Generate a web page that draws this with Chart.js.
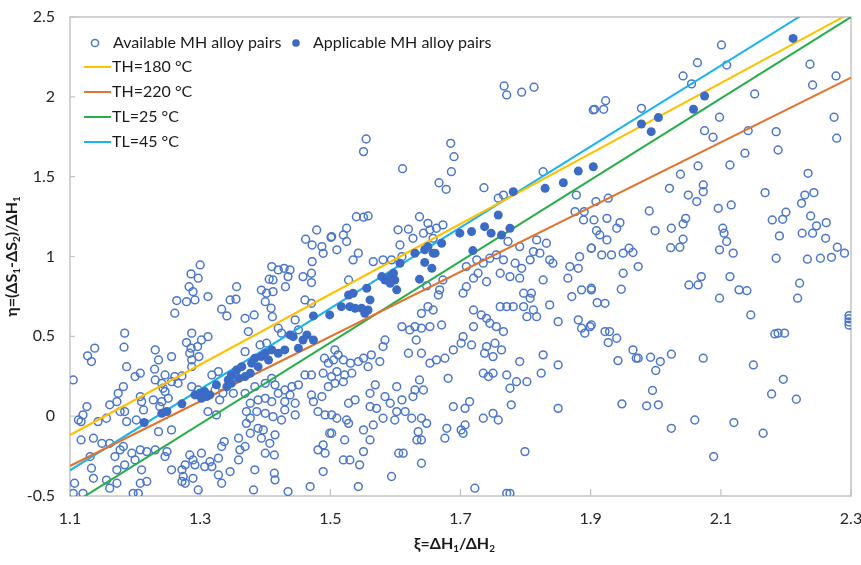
<!DOCTYPE html>
<html>
<head>
<meta charset="utf-8">
<script src="https://cdn.jsdelivr.net/npm/chart.js@4.4.1/dist/chart.umd.min.js"></script>
<style>
  html, body { margin: 0; padding: 0; background: #ffffff; }
  #wrap { width: 861px; height: 565px; position: relative; }
</style>
</head>
<body>
<div id="wrap"><canvas id="c" width="861" height="565"></canvas></div>
<script>
// Axis ticks
const xTickVals = [1.1, 1.3, 1.5, 1.7, 1.9, 2.1, 2.3];
const yTickVals = [-0.5, 0, 0.5, 1, 1.5, 2, 2.5];

// Available MH alloy pairs: xi, eta
const availXi = [
  1.479,1.462,1.472,1.501,1.487,1.489,1.472,1.300,1.286,1.297,1.283,1.289,1.264,1.279,1.292,1.261,1.312,1.356,1.333,1.341,
  1.346,1.355,1.369,1.374,1.383,1.410,1.406,1.412,1.420,1.429,1.438,1.435,1.431,1.394,1.402,1.412,1.400,1.409,1.411,1.446,
  1.458,1.461,1.471,1.471,1.471,1.451,1.420,1.425,1.402,1.392,1.369,1.312,1.302,1.287,1.279,1.286,1.296,1.284,1.298,1.287,
  1.287,1.256,1.231,1.236,1.184,1.183,1.138,1.127,1.133,1.187,1.200,1.208,1.230,1.246,1.261,1.272,1.231,1.241,1.243,1.246,
  1.256,1.266,1.251,1.241,1.238,1.287,1.297,1.318,1.328,1.323,1.335,1.330,1.312,1.325,1.351,1.369,1.377,1.384,1.400,1.410,
  1.415,1.400,1.389,1.410,1.420,1.430,1.441,1.412,1.400,1.387,1.371,1.377,1.389,1.397,1.394,1.415,1.407,1.414,1.359,1.361,
  1.369,1.337,1.333,1.328,1.315,1.318,1.307,1.302,1.284,1.289,1.292,1.277,1.272,1.274,1.277,1.289,1.256,1.249,1.246,1.256,
  1.231,1.236,1.218,1.208,1.200,1.195,1.210,1.218,1.208,1.197,1.205,1.172,1.156,1.161,1.136,1.133,1.120,1.105,1.107,1.172,
  1.184,1.169,1.177,1.182,1.161,1.149,1.136,1.117,1.131,1.113,1.120,1.117,1.126,1.143,1.156,1.161,1.172,1.174,1.182,1.177,
  1.184,1.187,1.202,1.213,1.210,1.208,1.228,1.105,1.491,1.497,1.489,1.502,1.497,1.487,1.474,1.471,1.461,1.471,1.451,1.438,
  1.446,1.430,1.430,1.446,1.425,1.481,1.492,1.499,1.489,1.481,1.492,1.489,1.469,1.435,1.382,1.384,1.346,1.297,1.272,1.328,
  1.333,1.359,1.414,1.415,1.400,1.377,1.371,
  1.767,1.771,1.794,1.813,1.904,1.555,1.551,1.611,1.685,1.690,1.686,1.667,1.678,1.736,1.827,1.878,1.876,1.890,1.889,1.901,
  1.758,1.766,1.540,1.551,1.558,1.525,1.520,1.502,1.510,1.525,1.543,1.535,1.566,1.581,1.604,1.620,1.607,1.627,1.637,1.650,
  1.653,1.663,1.673,1.643,1.658,1.610,1.594,1.528,1.648,1.668,1.666,1.673,1.709,1.720,1.709,1.725,1.735,1.745,1.755,1.766,
  1.727,1.740,1.761,1.773,1.791,1.812,1.817,1.832,1.807,1.822,1.837,1.842,1.784,1.794,1.791,1.776,1.797,1.809,1.807,1.827,
  1.865,1.868,1.883,1.881,1.871,1.886,1.901,1.837,1.850,1.881,1.886,1.891,1.899,1.761,1.771,1.781,1.797,1.812,1.817,1.802,
  1.766,1.755,1.745,1.740,1.732,1.720,1.720,1.704,1.753,1.740,1.737,1.750,1.763,1.717,1.704,1.701,1.689,1.676,1.663,1.653,
  1.671,1.653,1.640,1.630,1.622,1.610,1.640,1.650,1.658,1.632,1.620,1.640,1.637,1.630,1.643,1.627,1.584,1.581,1.576,1.563,
  1.558,1.551,1.543,1.531,1.520,1.512,1.507,1.505,1.510,1.522,1.533,1.520,1.507,1.569,1.561,1.584,1.602,1.592,1.602,1.615,
  1.625,1.640,1.648,1.635,1.640,1.679,1.701,1.707,1.714,1.707,1.689,1.735,1.750,1.758,1.778,1.776,1.771,1.786,1.802,1.791,
  1.827,1.824,1.850,1.850,1.799,1.776,1.771,1.722,1.743,1.681,1.640,1.612,1.605,1.594,1.633,1.676,1.704,1.735,1.750,1.581,
  1.571,1.561,1.538,1.528,1.525,1.510,1.502,1.502,1.528,1.522,1.551,1.566,1.561,1.551,1.530,1.520,1.545,1.543,1.599,1.610,
  2.101,2.064,2.109,2.042,2.055,2.152,2.237,2.241,2.277,1.978,1.906,1.920,1.923,2.098,2.075,2.088,2.142,2.185,2.188,2.274,
  2.278,2.137,2.114,2.065,2.038,2.021,2.050,2.073,2.073,2.063,2.234,2.229,2.243,2.224,2.168,2.096,2.116,1.990,1.999,2.024,
  2.042,2.046,2.042,2.037,2.023,2.103,2.105,2.109,2.098,2.119,2.179,2.195,2.200,2.190,2.185,2.225,2.241,2.238,2.247,2.262,
  2.261,2.279,2.290,2.270,2.253,2.233,2.221,2.218,2.114,2.128,2.140,2.146,2.070,2.051,2.065,2.098,2.188,2.198,2.183,2.297,
  2.297,2.297,2.297,2.150,2.196,2.178,2.216,2.165,2.120,2.089,2.060,2.024,2.073,2.024,2.007,2.000,1.995,1.986,2.004,1.992,
  1.970,1.965,1.942,1.948,1.973,1.965,1.959,1.950,1.950,1.947,1.940,1.945,1.925,1.908,1.927,1.905,1.909,1.914,1.925,1.917,
  1.932,1.901,1.901,1.910,1.922,1.901,1.922,1.929,1.927,1.940,1.973
];
const availEta = [
  1.166,1.108,1.072,1.120,1.062,1.020,0.968,0.947,0.891,0.864,0.811,0.780,0.724,0.717,0.728,0.645,0.749,0.811,0.670,0.628,
  0.728,0.733,0.613,0.530,0.634,0.937,0.858,0.853,0.916,0.926,0.916,0.874,0.811,0.790,0.770,0.780,0.717,0.676,0.623,0.603,
  0.874,0.728,0.707,0.895,0.837,0.541,0.551,0.520,0.457,0.446,0.404,0.498,0.477,0.520,0.461,0.426,0.436,0.394,0.373,0.352,
  0.310,0.373,0.415,0.352,0.520,0.432,0.426,0.378,0.342,0.310,0.248,0.269,0.294,0.258,0.248,0.252,0.227,0.206,0.175,0.154,
  0.216,0.206,0.112,0.091,0.060,0.185,0.164,0.258,0.279,0.164,0.143,0.102,0.029,0.008,0.143,0.143,0.081,0.185,0.206,0.237,
  0.196,0.112,0.102,0.091,0.143,0.164,0.185,-0.003,0.018,0.029,0.029,-0.013,-0.076,-0.086,-0.138,-0.117,-0.170,-0.243,-0.138,-0.211,
  -0.190,-0.159,-0.190,-0.263,-0.285,-0.316,-0.316,-0.232,-0.243,-0.274,-0.305,-0.305,-0.336,-0.378,-0.420,-0.389,-0.336,-0.222,-0.253,-0.086,
  -0.211,-0.097,-0.222,-0.211,-0.274,-0.232,-0.336,-0.409,-0.420,-0.483,-0.483,-0.420,-0.400,-0.451,-0.389,-0.326,-0.483,-0.483,-0.420,-0.336,
  -0.305,-0.253,-0.211,-0.190,-0.170,-0.170,-0.138,-0.149,-0.253,-0.024,0.008,-0.034,0.060,-0.034,-0.013,0.071,0.091,0.143,0.185,0.029,
  0.029,-0.034,-0.024,0.039,0.091,0.123,0.102,0.227,0.363,0.332,0.269,0.248,0.185,0.123,0.091,0.133,0.258,0.258,0.196,0.133,
  0.081,0.091,0.039,0.008,-0.024,0.029,0.008,-0.107,-0.180,-0.211,-0.232,-0.347,-0.441,-0.472,-0.462,-0.336,-0.347,-0.462,-0.409,-0.368,
  -0.420,-0.274,-0.357,-0.399,-0.232,-0.107,-0.045,
  2.068,2.012,2.029,2.060,1.918,1.736,1.657,1.550,1.709,1.625,1.531,1.462,1.421,1.431,1.531,1.385,1.281,1.281,1.229,1.052,
  1.365,1.385,1.249,1.246,1.254,1.177,1.135,1.125,1.042,1.094,1.021,0.979,0.968,0.979,1.167,1.171,1.072,1.114,1.249,1.208,
  1.167,1.177,1.198,1.146,1.114,0.999,0.979,0.853,0.816,0.791,0.759,0.853,0.811,0.864,0.937,0.979,0.958,0.989,1.010,0.979,
  0.895,0.842,0.895,1.094,1.062,1.031,1.104,1.083,0.979,1.021,0.979,0.958,0.958,0.926,0.864,0.874,0.770,0.770,0.738,0.853,
  0.864,0.937,0.999,0.926,0.749,0.791,0.791,0.697,0.592,0.603,0.551,0.520,0.561,0.686,0.686,0.686,0.686,0.665,0.623,0.623,
  0.530,0.561,0.582,0.613,0.634,0.561,0.665,0.770,0.457,0.436,0.394,0.373,0.415,0.446,0.498,0.457,0.415,0.363,0.352,0.332,
  0.571,0.561,0.551,0.561,0.540,0.561,0.644,0.686,0.665,0.477,0.394,0.394,0.227,0.164,0.164,0.123,0.477,0.436,0.342,0.384,
  0.310,0.363,0.342,0.332,0.352,0.384,0.415,0.352,0.279,0.258,0.269,0.216,0.206,0.196,0.143,0.123,0.185,0.081,0.029,0.029,
  -0.013,-0.013,-0.045,-0.097,-0.149,-0.076,-0.086,-0.055,0.091,0.049,0.060,-0.013,0.018,-0.024,0.071,0.175,0.258,0.216,0.216,0.342,
  0.384,0.269,0.321,0.049,-0.222,-0.483,-0.483,-0.451,0.248,0.237,-0.295,-0.232,-0.232,-0.378,-0.149,-0.138,-0.107,0.269,0.269,-0.013,
  0.049,0.060,0.102,0.081,-0.024,-0.013,0.008,-0.107,-0.045,-0.149,-0.086,-0.055,-0.149,-0.222,-0.274,-0.274,-0.305,-0.441,-0.024,0.102,
  2.325,2.214,2.199,2.131,2.081,2.018,2.204,2.074,2.131,1.928,1.922,1.922,1.976,1.872,1.788,1.747,1.788,1.782,1.667,1.872,
  1.741,1.647,1.573,1.567,1.515,1.427,1.385,1.448,1.406,1.344,1.521,1.385,1.400,1.333,1.400,1.302,1.323,1.285,1.162,1.177,
  1.204,1.239,1.108,1.058,1.055,1.177,1.146,1.094,1.042,1.021,1.229,1.233,1.277,1.129,0.989,1.146,1.146,1.254,1.192,1.212,
  1.114,1.058,1.021,0.995,0.989,0.983,0.833,0.739,0.874,0.791,0.786,0.634,0.874,0.822,0.822,0.739,0.520,0.520,0.515,0.630,
  0.610,0.590,0.570,0.321,0.231,0.139,0.106,-0.107,-0.040,-0.253,-0.024,-0.076,0.363,0.388,0.342,0.286,0.161,0.065,0.071,0.369,
  0.363,0.415,0.348,0.077,0.937,1.025,1.052,1.021,0.895,0.795,1.177,1.212,1.239,1.344,1.365,1.229,1.162,1.135,1.104,1.010,
  1.010,1.052,0.801,0.711,0.707,0.571,0.530,0.530,0.461,0.488,0.363
];

// Applicable MH alloy pairs: xi, eta
const applXi = [
  1.214,1.241,1.249,1.272,1.292,1.300,1.307,1.315,1.302,1.310,1.325,1.343,1.348,1.356,1.364,1.359,1.369,1.377,1.379,1.384,
  1.394,1.400,1.410,1.405,1.420,1.430,1.438,1.443,1.451,1.458,1.464,1.474,1.474,1.499,1.389,1.348,1.341,
  1.517,1.528,1.530,1.535,1.538,1.548,1.553,1.556,1.561,1.558,1.579,1.584,1.592,1.597,1.599,1.592,1.602,1.607,1.630,1.637,
  1.645,1.650,1.658,1.645,1.656,1.671,1.699,1.717,1.737,1.747,1.758,1.763,1.776,1.719,1.661,1.781,1.830,1.858,1.881,1.904,
  1.978,1.993,2.004,2.058,2.075,2.211
];
const applEta = [
  -0.040,0.018,0.029,0.077,0.133,0.143,0.154,0.133,0.112,0.123,0.196,0.227,0.258,0.289,0.310,0.237,0.248,0.269,0.332,0.363,
  0.373,0.394,0.415,0.352,0.394,0.415,0.509,0.498,0.426,0.477,0.509,0.477,0.628,0.634,0.310,0.206,0.185,
  0.686,0.759,0.686,0.770,0.676,0.676,0.644,0.801,0.728,0.665,0.874,0.853,0.874,0.895,0.853,0.832,0.791,0.958,1.021,0.858,
  1.042,1.062,1.021,0.963,0.926,1.083,1.146,1.156,1.187,1.146,1.260,1.135,1.177,1.037,1.021,1.406,1.427,1.462,1.535,1.562,
  1.830,1.782,1.870,1.922,2.005,2.366
];

// Boundary lines, given by their end values at xi = 1.1 and xi = 2.3
const lineXi = [1.1, 2.3];
const th180 = [-0.118, 2.527];
const th220 = [-0.312, 2.120];
const tl25  = [-0.559, 2.500];
const tl45  = [-0.339, 2.703];

const FONT = 'Lato, "Open Sans", "Liberation Sans", sans-serif';
const HOLLOW = '#4a76cc';
const FILLED = '#3c6bc6';

const pairs = (xs, ys) => xs.map((x, i) => ({ x: x, y: ys[i] }));

function lineSet(label, ys, color) {
  return {
    type: 'line', label: label, data: pairs(lineXi, ys),
    borderColor: color, borderWidth: 2, pointRadius: 0, fill: false,
    tension: 0, order: 1
  };
}

// Chart frame with short inward tick marks
const framePlugin = {
  id: 'frame',
  beforeDatasetsDraw(chart) {
    const ctx = chart.ctx, a = chart.chartArea;
    ctx.save();
    ctx.strokeStyle = '#c4c4c4';
    ctx.lineWidth = 1.5;
    ctx.strokeRect(a.left, a.top, a.right - a.left, a.bottom - a.top);
    ctx.lineWidth = 1.2;
    ctx.beginPath();
    const xs = chart.scales.x, ys = chart.scales.y;
    xTickVals.forEach(v => {
      const px = xs.getPixelForValue(v);
      ctx.moveTo(px, a.bottom); ctx.lineTo(px, a.bottom - 7);
    });
    yTickVals.forEach(v => {
      const py = ys.getPixelForValue(v);
      ctx.moveTo(a.left, py); ctx.lineTo(a.left + 5, py);
    });
    ctx.stroke();
    ctx.restore();
  }
};

// Axis titles with subscripts
function drawRich(ctx, parts, size) {
  let w = 0;
  parts.forEach(p => {
    ctx.font = 'bold ' + (p.sub ? size * 0.62 : size) + 'px ' + FONT;
    p.w = ctx.measureText(p.t).width; w += p.w;
  });
  let x = -w / 2;
  parts.forEach(p => {
    ctx.font = 'bold ' + (p.sub ? size * 0.62 : size) + 'px ' + FONT;
    ctx.fillText(p.t, x, p.sub ? size * 0.28 : 0);
    x += p.w;
  });
}
const titlePlugin = {
  id: 'axisTitles',
  afterDraw(chart) {
    const ctx = chart.ctx, a = chart.chartArea;
    ctx.save();
    ctx.fillStyle = '#1a1a1a';
    ctx.textBaseline = 'middle';
    ctx.translate((a.left + a.right) / 2 - 6, 544);
    drawRich(ctx, [{t:'ξ=ΔH'},{t:'1',sub:true},{t:'/ΔH'},{t:'2',sub:true}], 16);
    ctx.restore();
    ctx.save();
    ctx.fillStyle = '#1a1a1a';
    ctx.textBaseline = 'middle';
    ctx.translate(12, (a.top + a.bottom) / 2);
    ctx.rotate(-Math.PI / 2);
    drawRich(ctx, [{t:'η=(ΔS'},{t:'1',sub:true},{t:'-ΔS'},{t:'2',sub:true},{t:')/ΔH'},{t:'1',sub:true}], 16);
    ctx.restore();
  }
};

// Legend placed in the upper-left corner of the plot
const legendPlugin = {
  id: 'cornerLegend',
  afterDraw(chart) {
    const ctx = chart.ctx, a = chart.chartArea;
    const ds = chart.data.datasets;
    ctx.save();
    ctx.font = '16px ' + FONT;
    ctx.fillStyle = '#1a1a1a';
    ctx.textBaseline = 'middle';
    const r1 = a.top + 26;
    // marker series
    ctx.beginPath(); ctx.arc(a.left + 25, r1, 3.6, 0, Math.PI * 2);
    ctx.strokeStyle = ds[0].borderColor; ctx.lineWidth = 1.5; ctx.stroke();
    ctx.fillText(ds[0].label, a.left + 43, r1);
    ctx.beginPath(); ctx.arc(a.left + 226, r1, 3.8, 0, Math.PI * 2);
    ctx.fillStyle = ds[1].backgroundColor; ctx.fill();
    ctx.fillStyle = '#1a1a1a';
    ctx.fillText(ds[1].label, a.left + 243, r1);
    // line series
    for (let i = 2; i < ds.length; i++) {
      const yy = a.top + 50 + (i - 2) * 25;
      ctx.beginPath(); ctx.moveTo(a.left + 14, yy); ctx.lineTo(a.left + 41, yy);
      ctx.strokeStyle = ds[i].borderColor; ctx.lineWidth = 2; ctx.stroke();
      ctx.fillText(ds[i].label, a.left + 42, yy);
    }
    ctx.restore();
  }
};

new Chart(document.getElementById('c'), {
  type: 'scatter',
  data: {
    datasets: [
      {
        label: 'Available MH alloy pairs', data: pairs(availXi, availEta),
        pointRadius: 3.9, pointHoverRadius: 3.9, borderWidth: 1.5,
        borderColor: HOLLOW, backgroundColor: 'rgba(0,0,0,0)', order: 2
      },
      {
        label: 'Applicable MH alloy pairs', data: pairs(applXi, applEta),
        pointRadius: 4.5, pointHoverRadius: 4.5, borderWidth: 0,
        borderColor: FILLED, backgroundColor: FILLED, order: 0
      },
      lineSet('TH=180 °C', th180, '#ffc000'),
      lineSet('TH=220 °C', th220, '#e2742f'),
      lineSet('TL=25 °C', tl25, '#27ae4a'),
      lineSet('TL=45 °C', tl45, '#1cb4ec')
    ]
  },
  options: {
    responsive: false,
    animation: false,
    layout: { padding: { top: 17, right: 10, left: 0, bottom: 0 } },
    plugins: { legend: { display: false }, tooltip: { enabled: false } },
    scales: {
      x: {
        type: 'linear', min: 1.1, max: 2.3,
        afterBuildTicks: s => { s.ticks = xTickVals.map(v => ({ value: v })); },
        afterFit: s => { s.height = 69; s.paddingLeft = 0; s.paddingRight = 0; },
        grid: { display: false, drawTicks: false },
        border: { display: false },
        ticks: {
          padding: 13, color: '#262626', font: { family: FONT, size: 16 },
          callback: v => v.toFixed(1)
        }
      },
      y: {
        type: 'linear', min: -0.5, max: 2.5,
        afterBuildTicks: s => { s.ticks = yTickVals.map(v => ({ value: v })); },
        afterFit: s => { s.width = 70; s.paddingTop = 0; s.paddingBottom = 0; },
        grid: { display: false, drawTicks: false },
        border: { display: false },
        ticks: {
          padding: 15, color: '#262626', font: { family: FONT, size: 16 },
          callback: v => String(v)
        }
      }
    }
  },
  plugins: [framePlugin, legendPlugin, titlePlugin]
});
</script>
</body>
</html>
